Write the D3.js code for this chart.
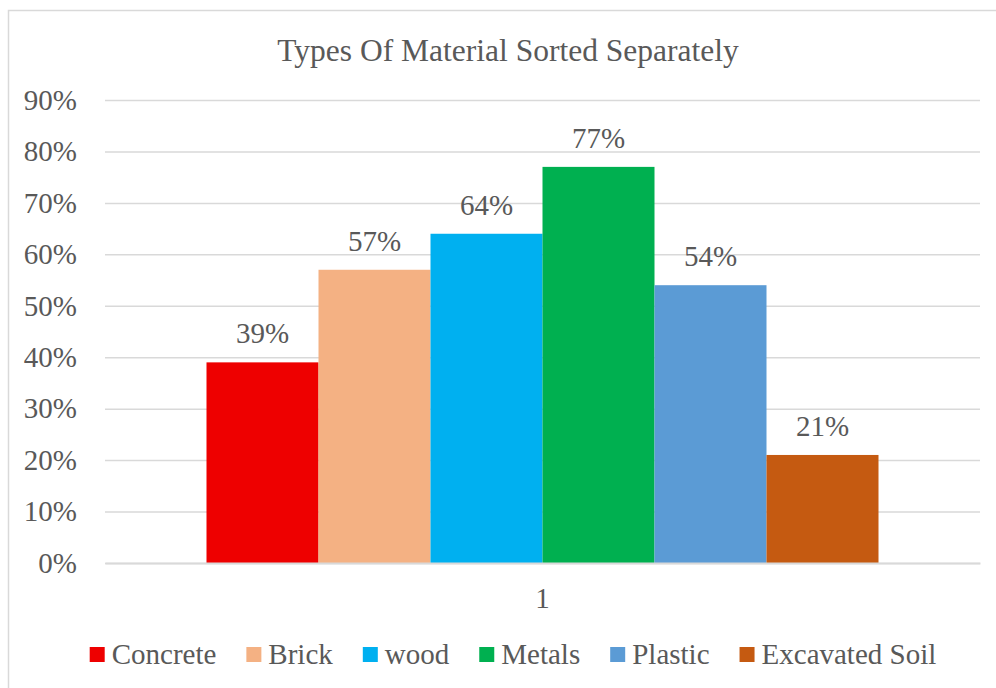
<!DOCTYPE html>
<html>
<head>
<meta charset="utf-8">
<script src="https://cdn.jsdelivr.net/npm/d3@7"></script>
<style>
  html, body { margin: 0; padding: 0; background: #fff; }
  svg { display: block; }
</style>
</head>
<body>
<svg id="chart" width="996" height="688"></svg>
<script>
// Chart data
const title = "Types Of Material Sorted Separately";
const categories = ["1"];
const seriesNames = ["Concrete", "Brick", "wood", "Metals", "Plastic", "Excavated Soil"];
const seriesValues = [0.39, 0.57, 0.64, 0.77, 0.54, 0.21];
const seriesColors = ["#EE0000", "#F4B183", "#00B0F0", "#00B050", "#5B9BD5", "#C55A11"];
const yTicks = [0, 0.1, 0.2, 0.3, 0.4, 0.5, 0.6, 0.7, 0.8, 0.9];

const FONT = "'Liberation Serif', 'Times New Roman', Times, serif";
const TEXT_COLOR = "#595959";
const fontSize = 29;

const svg = d3.select("#chart");
const W = 996, H = 688;
const plot = { left: 105, right: 980, top: 100, bottom: 563 };

function styleText(sel, size) {
  sel.attr("font-family", FONT)
     .style("font-family", FONT)
     .style("font-size", size + "px")
     .style("fill", TEXT_COLOR);
}

// Outer chart frame
svg.append("rect")
  .attr("x", 8.5).attr("y", 10.5)
  .attr("width", W + 10).attr("height", H + 10)
  .attr("fill", "#fff").attr("stroke", "#D9D9D9").attr("stroke-width", 1.5);

// Title
svg.append("text")
  .attr("x", 508).attr("y", 61)
  .attr("text-anchor", "middle")
  .call(styleText, 31.5)
  .text(title);

// Scales
const y = d3.scaleLinear().domain([0, 0.9]).range([plot.bottom, plot.top]);
const gap = 0.232;
const x0 = d3.scaleBand().domain(categories)
  .range([plot.left, plot.right])
  .paddingInner(gap).paddingOuter(gap / 2);
const x1 = d3.scaleBand().domain(seriesNames).range([0, x0.bandwidth()]);
const color = d3.scaleOrdinal().domain(seriesNames).range(seriesColors);
const pct = d3.format(".0%");

// Gridlines and value axis labels
const yAxis = d3.axisLeft(y).tickValues(yTicks).tickFormat(pct)
  .tickSize(-(plot.right - plot.left)).tickPadding(28);
const gy = svg.append("g").attr("transform", `translate(${plot.left},0)`).call(yAxis)
  .attr("font-family", FONT);
gy.select(".domain").remove();
gy.selectAll(".tick line").attr("stroke", "#D9D9D9").attr("stroke-width", 1.5);
gy.selectAll(".tick text").call(styleText, fontSize);

// Bars
const rows = seriesNames.map((name, i) => ({ name, value: seriesValues[i], cat: categories[0] }));
const bars = svg.append("g");
bars.selectAll("rect").data(rows).join("rect")
  .attr("x", d => x0(d.cat) + x1(d.name))
  .attr("y", d => y(d.value))
  .attr("width", x1.bandwidth())
  .attr("height", d => y(0) - y(d.value))
  .attr("fill", d => color(d.name));

// Value labels
bars.selectAll("text").data(rows).join("text")
  .attr("x", d => x0(d.cat) + x1(d.name) + x1.bandwidth() / 2)
  .attr("y", d => y(d.value) - 19)
  .attr("text-anchor", "middle")
  .call(styleText, fontSize)
  .text(d => pct(d.value));

// Category axis
const xAxis = d3.axisBottom(x0).tickSize(0).tickPadding(24);
const gx = svg.append("g").attr("transform", `translate(0,${plot.bottom})`).call(xAxis)
  .attr("font-family", FONT);
gx.select(".domain").attr("stroke", "#D9D9D9").attr("stroke-width", 2);
gx.selectAll(".tick text").call(styleText, fontSize);

// Legend
const legend = svg.append("g");
const items = legend.selectAll("g").data(seriesNames).join("g");
items.append("rect")
  .attr("width", 15).attr("height", 15)
  .attr("y", 647)
  .attr("fill", d => color(d));
items.append("text")
  .attr("x", 22).attr("y", 664)
  .call(styleText, fontSize)
  .text(d => d);
let cursor = 0;
const offsets = [];
items.each(function () {
  offsets.push(cursor);
  const w = d3.select(this).select("text").node().getComputedTextLength();
  cursor += 22 + w + 30;
});
const totalW = cursor - 30;
const startX = 513 - totalW / 2;
items.attr("transform", (d, i) => `translate(${startX + offsets[i]},0)`);
</script>
</body>
</html>
